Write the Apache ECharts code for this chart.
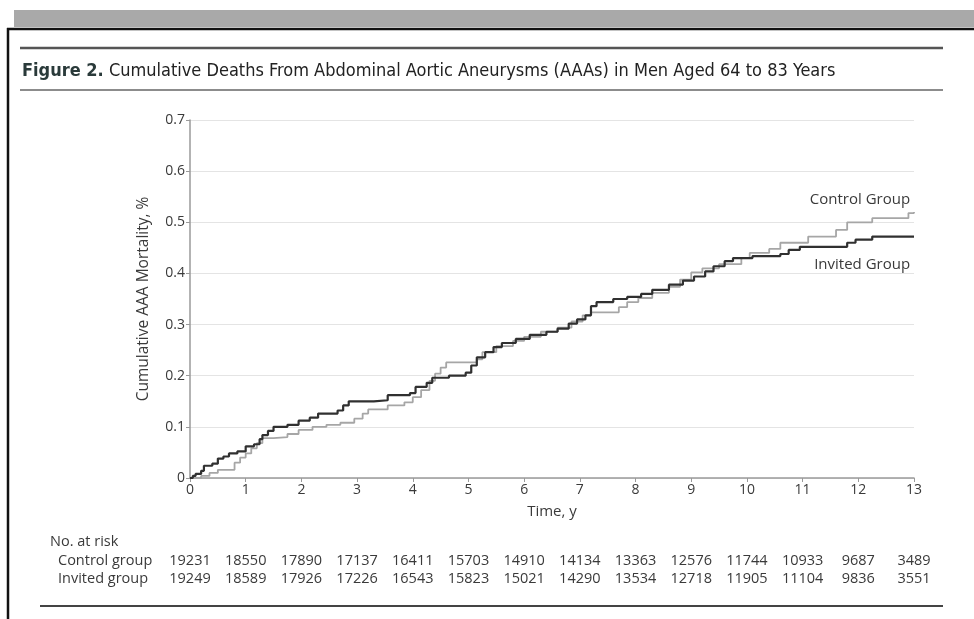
<!DOCTYPE html>
<html>
<head>
<meta charset="utf-8">
<script src="https://cdn.jsdelivr.net/npm/echarts@6/dist/echarts.min.js"></script>
<style>
  html, body { margin: 0; padding: 0; background: #fff; }
  #chart { width: 974px; height: 619px; }
</style>
</head>
<body>
<div id="chart"></div>
<script>
// Kaplan-Meier style step curves: [years, cumulative mortality %]
const invitedGroup = [
  [0, 0], [0.05, 0.004], [0.1, 0.008], [0.2, 0.014], [0.25, 0.024], [0.4, 0.028], [0.5, 0.038],
  [0.6, 0.042], [0.7, 0.048], [0.85, 0.052], [1.0, 0.062], [1.15, 0.066], [1.25, 0.076], [1.3, 0.084],
  [1.4, 0.092], [1.5, 0.1], [1.75, 0.104], [1.95, 0.112], [2.15, 0.118], [2.3, 0.126], [2.65, 0.132],
  [2.75, 0.142], [2.85, 0.15], [3.3, 0.152], [3.55, 0.162], [3.95, 0.166], [4.05, 0.178], [4.25, 0.186],
  [4.35, 0.196], [4.65, 0.2], [4.95, 0.206], [5.05, 0.22], [5.15, 0.236], [5.3, 0.246], [5.45, 0.256],
  [5.6, 0.264], [5.85, 0.272], [6.1, 0.28], [6.4, 0.286], [6.6, 0.292], [6.8, 0.302], [6.95, 0.31],
  [7.1, 0.318], [7.2, 0.336], [7.3, 0.344], [7.6, 0.35], [7.85, 0.354], [8.1, 0.36], [8.3, 0.368],
  [8.6, 0.378], [8.85, 0.386], [9.05, 0.394], [9.25, 0.404], [9.4, 0.414], [9.6, 0.424], [9.75, 0.43],
  [10.1, 0.434], [10.6, 0.438], [10.75, 0.446], [10.95, 0.452], [11.8, 0.46], [11.95, 0.466],
  [12.25, 0.472], [13.0, 0.472]
];
const controlGroup = [
  [0, 0], [0.2, 0.004], [0.35, 0.01], [0.5, 0.016], [0.8, 0.03], [0.9, 0.04], [1.0, 0.048], [1.1, 0.058],
  [1.2, 0.068], [1.3, 0.078], [1.5, 0.08], [1.75, 0.086], [1.95, 0.094], [2.2, 0.1], [2.45, 0.104],
  [2.7, 0.108], [2.95, 0.116], [3.1, 0.126], [3.2, 0.134], [3.55, 0.142], [3.85, 0.148], [4.0, 0.158],
  [4.15, 0.172], [4.3, 0.19], [4.4, 0.204], [4.5, 0.216], [4.6, 0.226], [5.15, 0.232], [5.25, 0.246],
  [5.5, 0.258], [5.8, 0.268], [6.0, 0.276], [6.3, 0.286], [6.6, 0.294], [6.85, 0.306], [7.05, 0.318],
  [7.2, 0.324], [7.7, 0.334], [7.85, 0.344], [8.05, 0.352], [8.3, 0.362], [8.6, 0.374], [8.8, 0.388],
  [9.0, 0.402], [9.2, 0.41], [9.5, 0.418], [9.9, 0.43], [10.05, 0.44], [10.4, 0.448], [10.6, 0.46],
  [11.1, 0.472], [11.6, 0.485], [11.8, 0.5], [12.25, 0.508], [12.9, 0.518], [13.0, 0.52]
];

// number at risk, one value per year tick 0..13
const controlAtRisk = [19231, 18550, 17890, 17137, 16411, 15703, 14910, 14134, 13363, 12576, 11744, 10933, 9687, 3489];
const invitedAtRisk = [19249, 18589, 17926, 17226, 16543, 15823, 15021, 14290, 13534, 12718, 11905, 11104, 9836, 3551];

const titleText = 'Cumulative Deaths From Abdominal Aortic Aneurysms (AAAs) in Men Aged 64 to 83 Years';
const fontMain = '"Open Sans", "Noto Sans", sans-serif';
const fontTitle = '"DejaVu Sans Condensed", "Open Sans", sans-serif';
const textColor = '#3a3a3a';

const chart = echarts.init(document.getElementById('chart'));

const riskAxis = (values, offset) => ({
  type: 'value',
  min: 0, max: 13, interval: 1,
  position: 'bottom',
  offset: offset,
  axisLine: { show: false },
  axisTick: { show: false },
  splitLine: { show: false },
  axisLabel: {
    margin: 0,
    color: textColor,
    fontFamily: fontMain,
    fontSize: 14.5,
    formatter: v => values[v] !== undefined ? String(values[v]) : ''
  }
});

chart.setOption({
  animation: false,
  backgroundColor: '#fff',
  grid: { left: 190, right: 60, top: 120, bottom: 141, containLabel: false },
  xAxis: [
    {
      type: 'value',
      min: 0, max: 13, interval: 1,
      name: 'Time, y',
      nameLocation: 'middle',
      nameGap: 26,
      nameTextStyle: { color: textColor, fontFamily: fontMain, fontSize: 15 },
      axisLine: { show: true, lineStyle: { color: '#9a9a9a', width: 1.5 } },
      axisTick: { show: true, inside: false, length: 4, lineStyle: { color: '#9a9a9a' } },
      splitLine: { show: false },
      axisLabel: { margin: 5, color: textColor, fontFamily: fontMain, fontSize: 14 }
    },
    riskAxis(controlAtRisk, 75),
    riskAxis(invitedAtRisk, 93)
  ],
  yAxis: {
    type: 'value',
    min: 0, max: 0.7, interval: 0.1,
    name: 'Cumulative AAA Mortality, %',
    nameLocation: 'middle',
    nameGap: 38,
    nameTextStyle: { color: textColor, fontFamily: fontMain, fontSize: 15.5 },
    axisLine: { show: true, lineStyle: { color: '#9a9a9a', width: 1.5 } },
    axisTick: { show: true, length: 4, lineStyle: { color: '#9a9a9a' } },
    splitLine: { show: true, lineStyle: { color: '#e4e4e4', width: 1 } },
    axisLabel: {
      margin: 5, color: textColor, fontFamily: fontMain, fontSize: 14,
      formatter: v => (v === 0 ? '0' : v.toFixed(1))
    }
  },
  series: [
    {
      name: 'Control Group',
      type: 'line',
      step: 'end',
      showSymbol: false,
      data: controlGroup,
      lineStyle: { color: '#a6a6a6', width: 1.8 },
      z: 2
    },
    {
      name: 'Invited Group',
      type: 'line',
      step: 'end',
      showSymbol: false,
      data: invitedGroup,
      lineStyle: { color: '#303030', width: 2.2 },
      z: 3
    }
  ]
});

// line labels placed in data coordinates
const ctrlPos = chart.convertToPixel({ gridIndex: 0 }, [12.93, 0.544]);
const invPos = chart.convertToPixel({ gridIndex: 0 }, [12.93, 0.417]);

chart.setOption({
  graphic: [
    // scanned page decorations
    { type: 'rect', shape: { x: 14, y: 10, width: 960, height: 17 }, style: { fill: '#a9a9a9' }, silent: true },
    { type: 'line', shape: { x1: 7, y1: 29, x2: 974, y2: 29 }, style: { stroke: '#111', lineWidth: 2.5 } },
    { type: 'line', shape: { x1: 8, y1: 28, x2: 8, y2: 619 }, style: { stroke: '#111', lineWidth: 2.5 } },
    { type: 'line', shape: { x1: 20, y1: 48, x2: 943, y2: 48 }, style: { stroke: '#555', lineWidth: 2.5 } },
    { type: 'line', shape: { x1: 20, y1: 90, x2: 943, y2: 90 }, style: { stroke: '#666', lineWidth: 1.5 } },
    { type: 'line', shape: { x1: 40, y1: 606, x2: 943, y2: 606 }, style: { stroke: '#444', lineWidth: 2 } },
    {
      type: 'text', left: 22, top: 62,
      style: {
        text: '{b|Figure 2.} ' + titleText,
        font: '18px ' + fontTitle,
        fill: '#222',
        rich: { b: { fontFamily: fontTitle, fontSize: 18, fontWeight: 'bold', fill: '#2a3a3a' } }
      }
    },
    {
      type: 'text', x: ctrlPos[0], y: ctrlPos[1],
      style: { text: 'Control Group', font: '15px ' + fontMain, fill: textColor, align: 'right', verticalAlign: 'middle' }
    },
    {
      type: 'text', x: invPos[0], y: invPos[1],
      style: { text: 'Invited Group', font: '15px ' + fontMain, fill: textColor, align: 'right', verticalAlign: 'middle' }
    },
    { type: 'text', left: 50, top: 534, style: { text: 'No. at risk', font: '14.5px ' + fontMain, fill: textColor } },
    { type: 'text', left: 58, top: 553, style: { text: 'Control group', font: '14.5px ' + fontMain, fill: textColor } },
    { type: 'text', left: 58, top: 571, style: { text: 'Invited group', font: '14.5px ' + fontMain, fill: textColor } }
  ]
});
</script>
</body>
</html>
